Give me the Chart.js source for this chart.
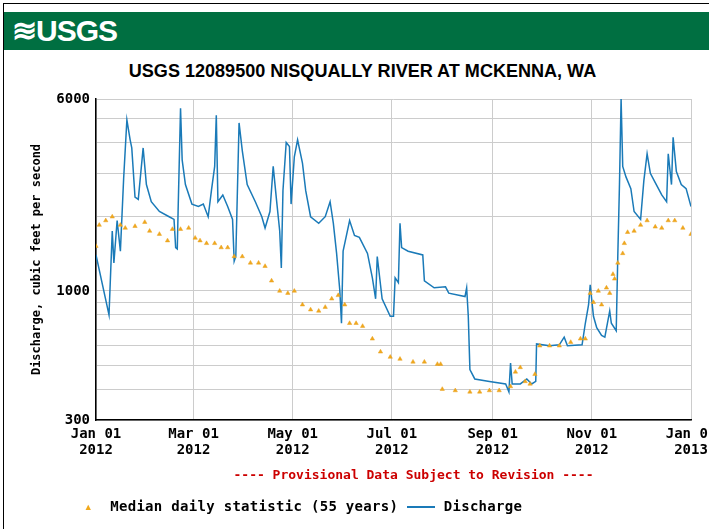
<!DOCTYPE html>
<html><head><meta charset="utf-8">
<script src="https://cdn.jsdelivr.net/npm/chart.js@4"></script>
<style>
html,body{margin:0;padding:0;background:#fff;width:709px;height:529px;overflow:hidden}
#frame{position:absolute;left:3px;top:3px;width:720px;height:540px;border-left:1px solid #000;border-top:1px solid #000}
#banner{position:absolute;left:4px;top:12px;width:705px;height:38px;background:#006f41;color:#fff;font:bold 30px "Liberation Sans Narrow","Liberation Sans",sans-serif;line-height:38px;padding-left:8px;box-sizing:border-box;letter-spacing:-1px}
#title{position:absolute;left:0;top:60px;width:709px;text-align:center;font:bold 19px "Liberation Sans Narrow","Liberation Sans",sans-serif;transform:translateX(8px) scaleX(0.95)}
#prov{position:absolute;left:0;top:467px;width:709px;text-align:center;color:#c00;font:bold 13px "DejaVu Sans Mono",monospace;padding-left:118px;box-sizing:border-box}
#leg{position:absolute;left:84px;top:498px;font:bold 14px "DejaVu Sans Mono",monospace;color:#000;letter-spacing:0.3px}
#c{position:absolute;left:0;top:0}
</style></head><body>
<div id="frame"></div>
<div id="banner">≋USGS</div>
<div id="title">USGS 12089500 NISQUALLY RIVER AT MCKENNA, WA</div>
<canvas id="c" width="709" height="529"></canvas>
<div id="prov">---- Provisional Data Subject to Revision ----</div>
<div id="leg"><span style="color:#f0a81c">▴</span>&nbsp; Median daily statistic (55 years) <span style="display:inline-block;width:28px;border-top:2px solid #1a7ab8;vertical-align:middle"></span> Discharge</div>
<script>
const dischargeDays=[0,8,10,11,13,15,17,19,21,22,24,26,29,31,34,39,45,48,49,50,50.5,52,53,55,59,63,66,69,71,73,74,75,78,81,84,85,86,88,90,93,98,102,104,107,109,111,113,114,115,117,119,120,122,124,127,129,132,137,141,144,146,148,150,151,152,156,159,162,167,170,172,173,176,181,183,184,186,187,188,192,201,202,208,215,217,227,228,229,230,233,242,252,254,255,256,261,265,268,270.5,271,279,285,288,290,299,301,303,304,306,308,311,313,316,317,320,321,322,323,324,326,329,331,335,337,339,341,344,348,351,352,354,355,357,360,363,366];
const dischargeVals=[1400,800,1750,1300,1930,1450,2850,4940,4100,3800,2400,2350,3800,2700,2300,2100,2000,1950,1500,1480,2100,5500,3400,2700,2250,2200,2250,2000,2550,3200,5150,2300,2450,2200,1950,1320,1380,4800,3700,2700,2300,2000,1800,2100,3200,2350,1750,1240,2550,4000,3850,2250,3500,4100,3300,2550,2000,1880,2000,2300,1880,1420,1000,740,1450,1930,1680,1650,1420,1130,930,1380,930,790,790,1130,1080,1880,1500,1450,1400,1100,1030,1040,980,950,1030,790,480,440,430,420,390,510,420,420,440,420,430,610,600,605,650,600,605,740,880,1060,790,710,660,650,830,740,690,1420,2700,6000,3200,2900,2600,2100,1950,2800,3600,3000,2750,2450,2300,3600,2700,4200,3050,2700,2600,2200];
const medianDays=[0,2,6,10,15,18,24,30,33,39,44,47,52,57,61,64,68,73,77,81,85,90,95,100,104,108,113,118,122,127,132,137,141,145,149,153,156,160,164,170,175,181,187,195,202,210,212,213,221,230,236,242,248,255,258,261,264,267,270,273,279,285,292,298,301,304,306,309,311,314,316,318,319,321,324,325,327,331,335,339,344,348,352,356,361,366];
const medianVals=[1520,1850,1930,2000,1850,1800,1830,1900,1750,1700,1600,1780,1780,1800,1640,1600,1560,1560,1500,1500,1380,1380,1300,1300,1260,1100,1000,980,1000,880,840,830,860,930,960,880,740,740,720,640,567,540,530,516,516,505,505,400,395,390,390,395,395,410,470,490,430,420,460,600,600,600,620,640,640,980,900,1000,880,1030,980,1170,1120,1300,1420,1560,1730,1750,1850,1930,1820,1800,1930,1930,1800,1700];
const xTicks=[0,60,121,182,244,305,366];
const xTickLabels=[['Jan 01','2012'],['Mar 01','2012'],['May 01','2012'],['Jul 01','2012'],['Sep 01','2012'],['Nov 01','2012'],['Jan 01','2013']];
const yGrid=[300,400,500,600,700,800,900,1000,2000,3000,4000,5000,6000];
const yLabeled=[300,1000,6000];
const tickFont={family:'"DejaVu Sans Mono", monospace',size:14,weight:'bold',lineHeight:1.1};
new Chart(document.getElementById('c'),{
 type:'line',
 data:{datasets:[
  {label:'Median',data:medianDays.map((d,i)=>({x:d,y:medianVals[i]})),showLine:false,pointStyle:'triangle',pointRadius:2.5,pointBackgroundColor:'#f0a81c',pointBorderColor:'#e8a020',borderWidth:0.5},
  {label:'Discharge',data:dischargeDays.map((d,i)=>({x:d,y:dischargeVals[i]})),borderColor:'#1a7ab8',borderWidth:1.5,pointRadius:0,tension:0}
 ]},
 options:{responsive:false,animation:false,
  layout:{padding:{left:0,right:18,top:99,bottom:0}},
  plugins:{legend:{display:false},tooltip:{enabled:false}},
  scales:{
   x:{type:'linear',min:0,max:366,afterBuildTicks:s=>{s.ticks=xTicks.map(v=>({value:v}));},
      afterFit:s=>{s.height=109;s.paddingLeft=0;s.paddingRight=0;},
      ticks:{autoSkip:false,maxRotation:0,color:'#000',font:tickFont,padding:7,callback:v=>xTickLabels[xTicks.indexOf(v)]},
      grid:{color:'#cccccc',drawTicks:false},border:{color:'#000',width:1.5}},
   y:{type:'logarithmic',min:300,max:6000,afterBuildTicks:s=>{s.ticks=yGrid.map(v=>({value:v}));},
      afterFit:s=>{s.width=96;s.paddingTop=0;s.paddingBottom=0;},
      ticks:{autoSkip:false,color:'#000',font:tickFont,padding:6,callback:v=>yLabeled.includes(v)?String(v):''},
      grid:{color:'#cccccc',drawTicks:false},border:{color:'#000',width:1.5},
      title:{display:true,text:'Discharge, cubic feet per second',color:'#000',font:{family:'"DejaVu Sans Mono", monospace',size:12,weight:'bold'},padding:{top:30,bottom:0}}}
  }}
});
</script></body></html>
